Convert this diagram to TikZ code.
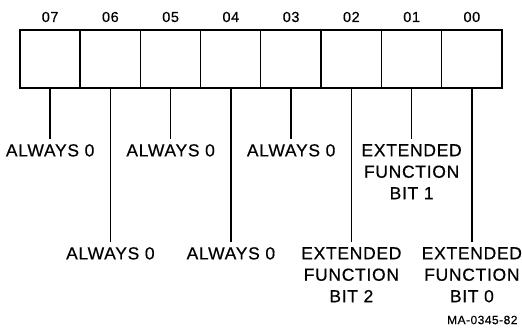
\documentclass[tikz,border=0pt]{standalone}
\usepackage{fontspec}
\setmainfont{Liberation Sans}
\newfontfamily\widesans[LetterSpace=4,FakeBold=0.4]{Liberation Sans}
\usepackage{tikz}
\usetikzlibrary{positioning}

\tikzset{
  cell/.style={minimum width=60.25pt, minimum height=58pt, inner sep=0pt},
  bitnum/.style={font=\widesans\fontsize{14.5}{17}\selectfont},
  bitlabel/.style={anchor=north, align=center, inner sep=0pt, inner ysep=5pt,
    font=\widesans\fontsize{17.5}{21.5}\selectfont},
  leader/.style={line width=1.5pt},
}

\begin{document}
\begin{tikzpicture}[x=1pt, y=-1pt]
    \useasboundingbox (0,0) rectangle (522,329);

    % Register cells, bit 07 on the left
    \foreach \i/\n in {7/07,6/06,5/05,4/04,3/03,2/02,1/01,0/00} {
        \node[cell] (b\i) at ({20+60.25*(7-\i)+30.125}, 59) {};
        \node[bitnum] (n\i) at ({20+60.25*(7-\i)+30.125}, 17) {\n};
    }
    \foreach \i in {0,...,6}
        \draw[line width=1.2pt] (b\i.north west) -- (b\i.south west);
    \draw[line width=2.4pt] (b7.north west) rectangle (b0.south east);

    % Labels, upper row
    \node[bitlabel] (l7) at (b7.south |- 0,139) {ALWAYS 0};
    \node[bitlabel] (l5) at (b5.south |- 0,139) {ALWAYS 0};
    \node[bitlabel] (l3) at (b3.south |- 0,139) {ALWAYS 0};
    \node[bitlabel] (l1) at (b1.south |- 0,139) {EXTENDED\\FUNCTION\\BIT 1};

    % Labels, lower row
    \node[bitlabel] (l6) at (b6.south |- 0,242) {ALWAYS 0};
    \node[bitlabel] (l4) at (b4.south |- 0,242) {ALWAYS 0};
    \node[bitlabel] (l2) at (b2.south |- 0,242) {EXTENDED\\FUNCTION\\BIT 2};
    \node[bitlabel] (l0) at (b0.south |- 0,242) {EXTENDED\\FUNCTION\\BIT 0};

    % Leader lines
    \foreach \i in {0,...,7}
        \draw[leader] (b\i.south) -- (b\i.south |- l\i.north);

    \node[anchor=east, font=\widesans\fontsize{12}{14}\selectfont] (fig) at (521,320) {MA-0345-82};
\end{tikzpicture}
\end{document}
